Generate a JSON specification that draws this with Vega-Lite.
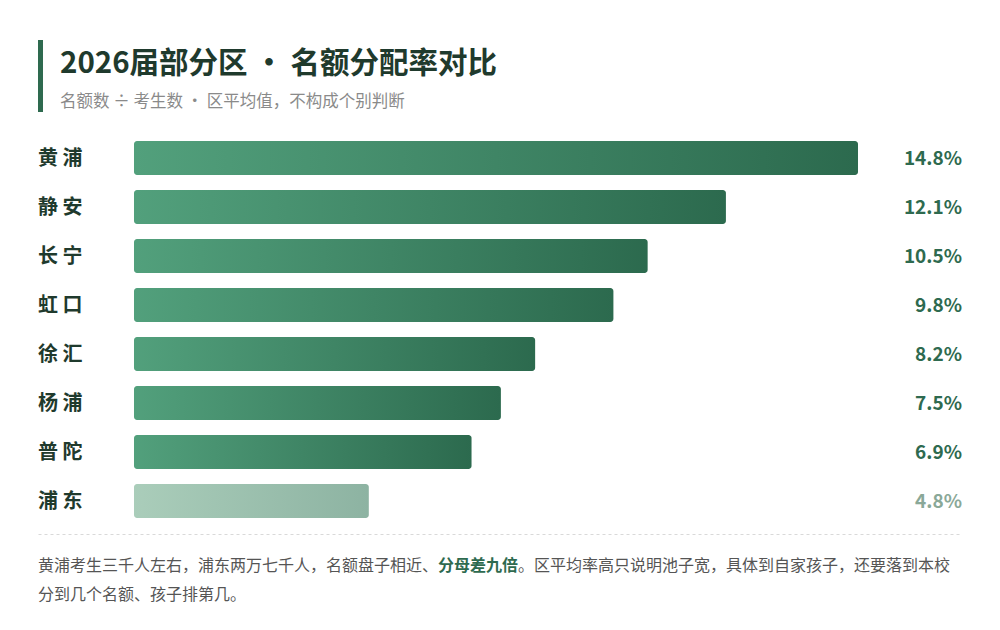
{
  "$schema": "https://vega.github.io/schema/vega-lite/v6.json",
  "autosize": "none",
  "width": 924,
  "height": 392,
  "padding": {"left": 38, "top": 133.5, "right": 38, "bottom": 104.5},
  "background": "white",
  "config": {
    "font": "Noto Sans CJK SC",
    "view": {"stroke": null}
  },
  "title": {
    "text": "2026届部分区 · 名额分配率对比",
    "subtitle": "名额数 ÷ 考生数 · 区平均值，不构成个别判断",
    "anchor": "start",
    "frame": "group",
    "dx": 22,
    "offset": -74,
    "fontSize": 29.5,
    "fontWeight": "bold",
    "color": "#1f3a2d",
    "subtitleFontSize": 16.5,
    "subtitleColor": "#8a8a8a",
    "subtitlePadding": 15
  },
  "data": {
    "values": [
      {"region": "黄浦", "rate": 14.8},
      {"region": "静安", "rate": 12.1},
      {"region": "长宁", "rate": 10.5},
      {"region": "虹口", "rate": 9.8},
      {"region": "徐汇", "rate": 8.2},
      {"region": "杨浦", "rate": 7.5},
      {"region": "普陀", "rate": 6.9},
      {"region": "浦东", "rate": 4.8}
    ]
  },
  "transform": [
    {"calculate": "substring(datum.region, 0, 1) + ' ' + substring(datum.region, 1, 2)", "as": "label"},
    {"calculate": "format(datum.rate, '.1f') + '%'", "as": "rate_label"}
  ],
  "encoding": {
    "y": {
      "field": "region",
      "type": "nominal",
      "sort": null,
      "scale": {"paddingInner": 0.306, "paddingOuter": 0.153},
      "axis": null
    }
  },
  "layer": [
    {
      "transform": [{"filter": "datum.region !== '浦东'"}],
      "mark": {
        "type": "bar",
        "cornerRadius": 3,
        "color": {
          "gradient": "linear",
          "stops": [
            {"offset": 0, "color": "#52a07c"},
            {"offset": 1, "color": "#2c6a4e"}
          ]
        }
      },
      "encoding": {
        "x": {
          "field": "rate",
          "type": "quantitative",
          "scale": {"domain": [-1.9624, 16.926], "nice": false, "zero": false},
          "axis": {
            "title": null,
            "labels": false,
            "ticks": false,
            "grid": false,
            "offset": 8.5,
            "domainColor": "#d9d9d9",
            "domainDash": [3, 3],
            "domainWidth": 1
          }
        },
        "x2": {"datum": 0}
      }
    },
    {
      "transform": [{"filter": "datum.region === '浦东'"}],
      "mark": {
        "type": "bar",
        "cornerRadius": 3,
        "color": {
          "gradient": "linear",
          "stops": [
            {"offset": 0, "color": "#aacdba"},
            {"offset": 1, "color": "#8db3a2"}
          ]
        }
      },
      "encoding": {
        "x": {"field": "rate", "type": "quantitative"},
        "x2": {"datum": 0}
      }
    },
    {
      "mark": {
        "type": "text",
        "align": "left",
        "baseline": "middle",
        "dy": 1,
        "fontSize": 20,
        "fontWeight": "bold",
        "color": "#1f3a2d"
      },
      "encoding": {
        "x": {"value": 0},
        "text": {"field": "label"}
      }
    },
    {
      "mark": {
        "type": "text",
        "align": "right",
        "baseline": "middle",
        "dy": 1,
        "fontSize": 19,
        "fontWeight": "bold"
      },
      "encoding": {
        "x": {"value": "width"},
        "text": {"field": "rate_label"},
        "color": {
          "condition": {"test": "datum.region === '浦东'", "value": "#8aa898"},
          "value": "#2e6a4f"
        }
      }
    },
    {
      "data": {"values": [{}]},
      "mark": {"type": "rule", "color": "#2e6a4f", "strokeWidth": 5},
      "encoding": {
        "x": {"value": 2.5},
        "y": {"value": -93.5},
        "y2": {"value": -21.5}
      }
    },
    {
      "data": {"values": [{}]},
      "mark": {"type": "text", "align": "left", "baseline": "middle", "fontSize": 16, "color": "#555555"},
      "encoding": {
        "x": {"value": 0},
        "y": {"value": 432.5},
        "text": {"value": "黄浦考生三千人左右，浦东两万七千人，名额盘子相近、"}
      }
    },
    {
      "data": {"values": [{}]},
      "mark": {"type": "text", "align": "left", "baseline": "middle", "fontSize": 16, "fontWeight": "bold", "color": "#2e6a4f"},
      "encoding": {
        "x": {"value": 400},
        "y": {"value": 432.5},
        "text": {"value": "分母差九倍"}
      }
    },
    {
      "data": {"values": [{}]},
      "mark": {"type": "text", "align": "left", "baseline": "middle", "fontSize": 16, "color": "#555555"},
      "encoding": {
        "x": {"value": 480},
        "y": {"value": 432.5},
        "text": {"value": "。区平均率高只说明池子宽，具体到自家孩子，还要落到本校"}
      }
    },
    {
      "data": {"values": [{}]},
      "mark": {"type": "text", "align": "left", "baseline": "middle", "fontSize": 16, "color": "#555555"},
      "encoding": {
        "x": {"value": 0},
        "y": {"value": 461.5},
        "text": {"value": "分到几个名额、孩子排第几。"}
      }
    }
  ]
}
